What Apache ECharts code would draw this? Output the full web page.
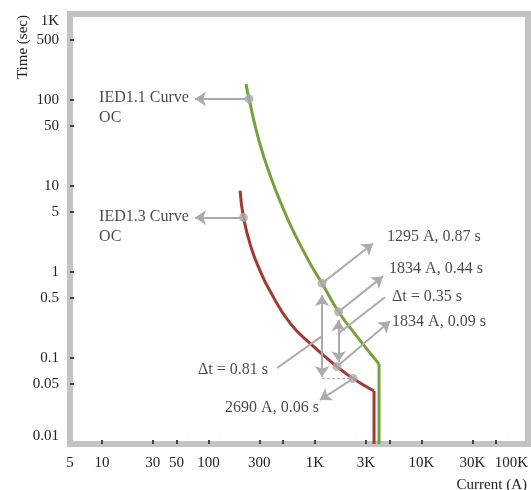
<!DOCTYPE html>
<html><head><meta charset="utf-8">
<script src="https://cdn.jsdelivr.net/npm/echarts@6/dist/echarts.min.js"></script>
<style>html,body{margin:0;padding:0;background:#fff}#c{width:531px;height:490px}</style>
</head><body><div id="c"></div>
<script>
// ---- axis ticks / labels ----
const xTickValues = [10, 30, 50, 100, 300, 500, 1000, 3000, 5000, 10000, 30000, 50000];
const xLabelValues = [5, 10, 30, 50, 100, 300, 1000, 3000, 10000, 30000, 100000];
const yTickValues = [0.05, 0.1, 0.5, 1, 5, 10, 50, 100, 500];
const yLabelValues = [0.01, 0.05, 0.1, 0.5, 1, 5, 10, 50, 100, 500, 1000];
const xRange = [5, 100000];
const yRange = [0.01, 1000];

// ---- curves (current A, time s) ----
const greenCurrent = [225, 240, 298, 386, 512, 622, 898, 1164, 1663, 2506, 3990];
const greenTime    = [153, 103, 33.5, 12.5, 5.17, 3.03, 1.26, 0.738, 0.345, 0.175, 0.085];
const redCurrent = [198, 213, 251, 304.5, 370, 583, 937, 1611, 2275, 3581];
const redTime    = [8.82, 4.29, 1.93, 1.04, 0.629, 0.254, 0.141, 0.0795, 0.0577, 0.0413];

// ---- marked points ----
const markerCurrent = [240, 213, 1164, 1663, 1611, 2275];
const markerTime    = [103, 4.29, 0.738, 0.345, 0.0795, 0.0577];

// ---- arrows: [fromCurrent, fromTime, toCurrent, toTime] ----
const arrowLines = [
  [240, 103, 74.6, 103],
  [213, 4.29, 74.6, 4.29],
  [1164, 0.738, 3508, 2.145],
  [1663, 0.345, 4346, 0.889],
  [1611, 0.0795, 5058, 0.268],
  [2275, 0.0577, 1114, 0.0325]
];
const leaderLines = [
  [1663, 0.194, 4540, 0.508],
  [440, 0.0764, 1164, 0.1794]
];
const doubleArrows = [
  [1164, 0.535, 1164, 0.0601],
  [1663, 0.275, 1663, 0.0897]
];
const dashedLines = [
  [1164, 0.0577, 2275, 0.0577]
];

// ---- annotation texts ----
const noteText    = ['IED1.1 Curve\nOC', 'IED1.3 Curve\nOC', '1295 A, 0.87 s', '1834 A, 0.44 s', 'Δt = 0.35 s', '1834 A, 0.09 s', 'Δt = 0.81 s', '2690 A, 0.06 s'];
const noteCurrent = [9.37, 9.37, 4740, 4955, 5285, 5285, 79.6, 142.9];
const noteTime    = [80.8, 3.37, 2.585, 1.10, 0.521, 0.2607, 0.0724, 0.0263];

const FONT = '"Liberation Serif", "Times New Roman", serif';
const GREEN = '#77a13a', RED = '#a13a32', GRAY = '#ababab', FRAME = '#c3c3c3', TICK = '#34495e';

function fmt(v) {
  if (v >= 1000) return Math.round(v / 1000) + 'K';
  return String(parseFloat(Number(v).toPrecision(2)));
}
const zip = (a, b) => a.map((v, i) => [v, b[i]]);

const arrowData = arrowLines.map(a => [
  { coord: [a[0], a[1]], symbol: 'none' },
  { coord: [a[2], a[3]], symbol: 'arrow' }
]).concat(leaderLines.map(a => [
  { coord: [a[0], a[1]], symbol: 'none' },
  { coord: [a[2], a[3]], symbol: 'none' }
])).concat(doubleArrows.map(a => [
  { coord: [a[0], a[1]], symbol: 'arrow' },
  { coord: [a[2], a[3]], symbol: 'arrow' }
])).concat(dashedLines.map(a => [
  { coord: [a[0], a[1]], symbol: 'none', lineStyle: { type: [3, 2], width: 1 } },
  { coord: [a[2], a[3]], symbol: 'none' }
]));

const chart = echarts.init(document.getElementById('c'), null, { renderer: 'canvas' });
chart.setOption({
  animation: false,
  backgroundColor: '#fff',
  grid: { left: 70, right: 3, top: 14, bottom: 46, show: true, borderColor: FRAME, borderWidth: 6, backgroundColor: 'transparent' },
  xAxis: {
    type: 'log', logBase: 10, min: xRange[0], max: xRange[1],
    axisLine: { show: true, lineStyle: { color: FRAME, width: 6 } },
    axisTick: { show: true, inside: true, length: 4, lineStyle: { color: TICK, width: 2 }, customValues: xTickValues },
    axisLabel: { customValues: xLabelValues, formatter: fmt, margin: 12, color: '#222', fontFamily: FONT, fontSize: 15, alignMaxLabel: 'right', showMinLabel: true, showMaxLabel: true },
    splitLine: { show: false }, minorTick: { show: false }
  },
  yAxis: {
    type: 'log', logBase: 10, min: yRange[0], max: yRange[1],
    axisLine: { show: true, lineStyle: { color: FRAME, width: 6 } },
    axisTick: { show: true, inside: true, length: 4, lineStyle: { color: TICK, width: 2 }, customValues: yTickValues },
    axisLabel: { customValues: yLabelValues, formatter: fmt, margin: 11, color: '#222', fontFamily: FONT, fontSize: 15, verticalAlignMaxLabel: 'top', verticalAlignMinLabel: 'bottom', showMinLabel: true, showMaxLabel: true },
    splitLine: { show: false }, minorTick: { show: false }
  },
  graphic: [
    { type: 'text', x: 527, y: 485, style: { text: 'Current (A)', textAlign: 'right', textVerticalAlign: 'middle', font: '15px ' + FONT, fill: '#222' } },
    { type: 'text', x: 23, y: 47, rotation: Math.PI / 2, style: { text: 'Time (sec)', textAlign: 'center', textVerticalAlign: 'middle', font: '15px ' + FONT, fill: '#222' } }
  ],
  series: [
    { type: 'line', data: zip(greenCurrent, greenTime), smooth: 0.5, symbol: 'none', lineStyle: { color: GREEN, width: 3 }, z: 3 },
    { type: 'line', data: [[greenCurrent[greenCurrent.length - 1], greenTime[greenTime.length - 1]], [greenCurrent[greenCurrent.length - 1], yRange[0]]], symbol: 'none', lineStyle: { color: GREEN, width: 3 }, z: 3 },
    { type: 'line', data: zip(redCurrent, redTime), smooth: 0.5, symbol: 'none', lineStyle: { color: RED, width: 3 }, z: 3 },
    { type: 'line', data: [[redCurrent[redCurrent.length - 1], redTime[redTime.length - 1]], [redCurrent[redCurrent.length - 1], yRange[0]]], symbol: 'none', lineStyle: { color: RED, width: 3 }, z: 3 },
    { type: 'scatter', data: [], z: 4,
      markLine: { silent: true, symbolSize: 11, label: { show: false }, lineStyle: { color: GRAY, width: 2, type: 'solid' }, emphasis: { disabled: true }, data: arrowData } },
    { type: 'scatter', data: zip(markerCurrent, markerTime), symbol: 'circle', symbolSize: 9, itemStyle: { color: GRAY }, z: 6 },
    { type: 'scatter', data: noteText.map((t, i) => ({ name: t, value: [noteCurrent[i], noteTime[i]] })), symbolSize: 0.1, itemStyle: { color: 'rgba(0,0,0,0)' }, z: 7,
      label: { show: true, position: 'right', distance: 0, formatter: '{b}', fontFamily: FONT, fontSize: 16, lineHeight: 20, color: '#1a1a1a' } }
  ]
});
</script></body></html>
